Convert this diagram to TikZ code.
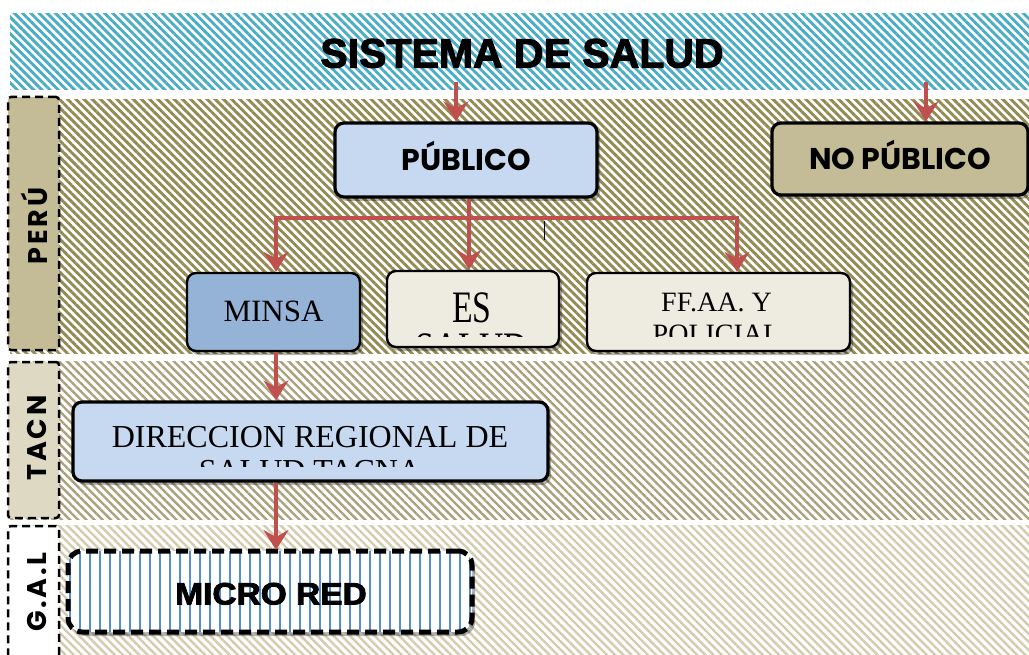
\documentclass[tikz,border=0pt]{standalone}
\usepackage{fontspec}
\usepackage{graphicx}
\setmainfont{Liberation Serif}
\newfontfamily\heavyfont{Liberation Sans}[BoldFeatures={FakeBold=2.5}]
\newfontfamily\gothicfont{Poppins}
\newfontfamily\gothicspaced{Poppins}[LetterSpace=10]
\usetikzlibrary{arrows.meta,patterns.meta,shadows}
\definecolor{aquastripe}{HTML}{4BACC6}
\definecolor{olivestripe}{HTML}{948A54}
\definecolor{tacstripe}{HTML}{ABA27C}
\definecolor{galstripe}{HTML}{D3CDB0}
\definecolor{perufill}{HTML}{C4BC96}
\definecolor{tacfill}{HTML}{DDD9C3}
\definecolor{pubfill}{HTML}{C6D9F1}
\definecolor{minsafill}{HTML}{95B3D7}
\definecolor{esfill}{HTML}{EEECE1}
\definecolor{arrowred}{HTML}{C0504D}
\definecolor{microline}{HTML}{558ED5}
\tikzset{
  boxbase/.style={rounded corners=9pt, draw=black, line width=3.2pt,
    drop shadow={shadow xshift=3pt, shadow yshift=-4pt, opacity=0.3, fill=black}},
  thinbox/.style={boxbase, line width=2.4pt},
  labelbox/.style={draw=black, line width=2.5pt, dash pattern=on 8pt off 5pt, rounded corners=3pt},
  redline/.style={draw=arrowred, line width=4.5pt},
  redarrow/.style={redline, -{Stealth[length=20pt, width=25pt, inset=7pt]}},
  lbltext/.style={rotate=90, font=\gothicspaced\bfseries\fontsize{27}{32}\selectfont,
    text height=19pt, text depth=0pt, inner sep=0pt},
  gothictext/.style={font=\gothicfont\bfseries\fontsize{30}{36}\selectfont, text height=21pt, text depth=0pt},
  seriftext/.style={inner sep=0pt, anchor=base},
}
\begin{document}
\begin{tikzpicture}[x=1pt,y=-1pt]
\useasboundingbox (0,0) rectangle (1029,655);
\fill[white] (0,0) rectangle (1029,655);
% bands
\fill[pattern={Lines[angle=-45,distance=5.8pt,line width=2.9pt]}, pattern color=aquastripe] (10,14) rectangle (1029,90);
\fill[pattern={Lines[angle=-45,distance=5.8pt,line width=2.9pt]}, pattern color=olivestripe] (10,100) rectangle (1029,353);
\fill[pattern={Lines[angle=-45,distance=5.8pt,line width=2.4pt]}, pattern color=tacstripe] (10,361) rectangle (1029,519);
\fill[pattern={Lines[angle=-45,distance=5.8pt,line width=2.4pt]}, pattern color=galstripe] (10,525) rectangle (1029,655);
% side labels
\node[labelbox, fill=perufill, minimum width=51pt, minimum height=253pt, inner sep=0pt] (peru) at (33.5,223.5) {};
\node[lbltext] (perutxt) at (38,226) {PERÚ};
\node[labelbox, fill=tacfill, minimum width=51pt, minimum height=156pt, inner sep=0pt] (tacn) at (33.5,440) {};
\node[lbltext] (tacntxt) at (37,438) {TACN};
\node[labelbox, fill=white, minimum width=51pt, minimum height=160pt, inner sep=0pt] (gal) at (33.5,606) {};
\node[lbltext] (galtxt) at (37,592) {G.A.L};
% title
\node[font=\heavyfont\bfseries\fontsize{41}{48}\selectfont, text height=29pt, text depth=0pt, inner sep=0pt] (title) at (522,53) {SISTEMA DE SALUD};
% main boxes
\node[boxbase, fill=pubfill, minimum width=262pt, minimum height=74pt, gothictext] (pub) at (466,160) {PÚBLICO};
\node[boxbase, fill=perufill, minimum width=256pt, minimum height=72pt, gothictext] (nopub) at (900,159) {NO PÚBLICO};
\node[thinbox, fill=minsafill, minimum width=173pt, minimum height=78pt, font=\fontsize{31}{36}\selectfont, text height=20pt, text depth=0pt] (minsa) at (273.5,312) {MINSA};
\node[thinbox, fill=esfill, minimum width=172pt, minimum height=76pt] (es) at (473,309) {};
\node[thinbox, fill=esfill, minimum width=263pt, minimum height=78pt] (ff) at (718.5,312) {};
\node[boxbase, fill=pubfill, minimum width=475pt, minimum height=79pt] (dir) at (310.5,441.5) {};
\node[boxbase, line width=5pt, dash pattern=on 12pt off 6pt, rounded corners=14pt,
  preaction={fill=white},
  pattern={Lines[angle=90,distance=10pt,line width=2pt]}, pattern color=microline,
  minimum width=404pt, minimum height=81pt] (micro) at (270,591.5) {};
\node[font=\heavyfont\bfseries\fontsize{31}{36}\selectfont, text height=22pt, text depth=0pt, inner sep=0pt] (microtxt) at (271,593.5) {\scalebox{1.08}[1]{MICRO RED}};
% clipped texts
\begin{scope}
\clip ([xshift=3pt]es.north west) rectangle ([xshift=-3pt,yshift=12pt]es.south east);
\node[seriftext, font=\fontsize{45}{50}\selectfont] (es1) at (472,323) {\scalebox{0.75}[1]{ES}};
\node[seriftext, font=\fontsize{45}{50}\selectfont, text height=28pt] (es2) at (472,363) {\scalebox{0.75}[1]{SALUD}};
\end{scope}
\begin{scope}
\clip ([xshift=3pt]ff.north west) rectangle ([xshift=-3pt,yshift=16pt]ff.south east);
\node[seriftext, font=\fontsize{28}{32}\selectfont] (ff1) at (716.5,312) {FF.AA. Y};
\node[seriftext, font=\fontsize{28}{32}\selectfont] (ff2) at (716.5,344) {POLICIAL};
\end{scope}
\begin{scope}
\clip ([xshift=3pt]dir.north west) rectangle ([xshift=-3pt,yshift=16pt]dir.south east);
\node[seriftext, font=\fontsize{32}{36}\selectfont] (dir1) at (310,447) {DIRECCION REGIONAL DE};
\node[seriftext, font=\fontsize{32}{36}\selectfont] (dir2) at (310,481) {SALUD TACNA};
\end{scope}
% connectors
\coordinate (s1) at (456,82);
\coordinate (s2) at (926,82);
\coordinate (j) at (469,218);
\coordinate (jl) at (276,218);
\coordinate (jr) at (737,218);
\coordinate (k1) at (544,221);
\coordinate (k2) at (544,240);
\draw[redarrow] (s1) -- (s1 |- pub.north);
\draw[redarrow] (s2) -- (s2 |- nopub.north);
\draw[redline] (j |- pub.south) -- (j);
\draw[redline, line cap=rect] (jl) -- (jr);
\draw[redarrow] (jl) -- (jl |- minsa.north);
\draw[redarrow] (j) -- (j |- es.north);
\draw[redarrow] (jr) -- (jr |- ff.north);
\draw[black, line width=1pt] (k1) -- (k2);
\draw[redarrow] (jl |- minsa.south) -- (jl |- dir.north);
\draw[redarrow] (jl |- dir.south) -- (jl |- micro.north);
\end{tikzpicture}
\end{document}
